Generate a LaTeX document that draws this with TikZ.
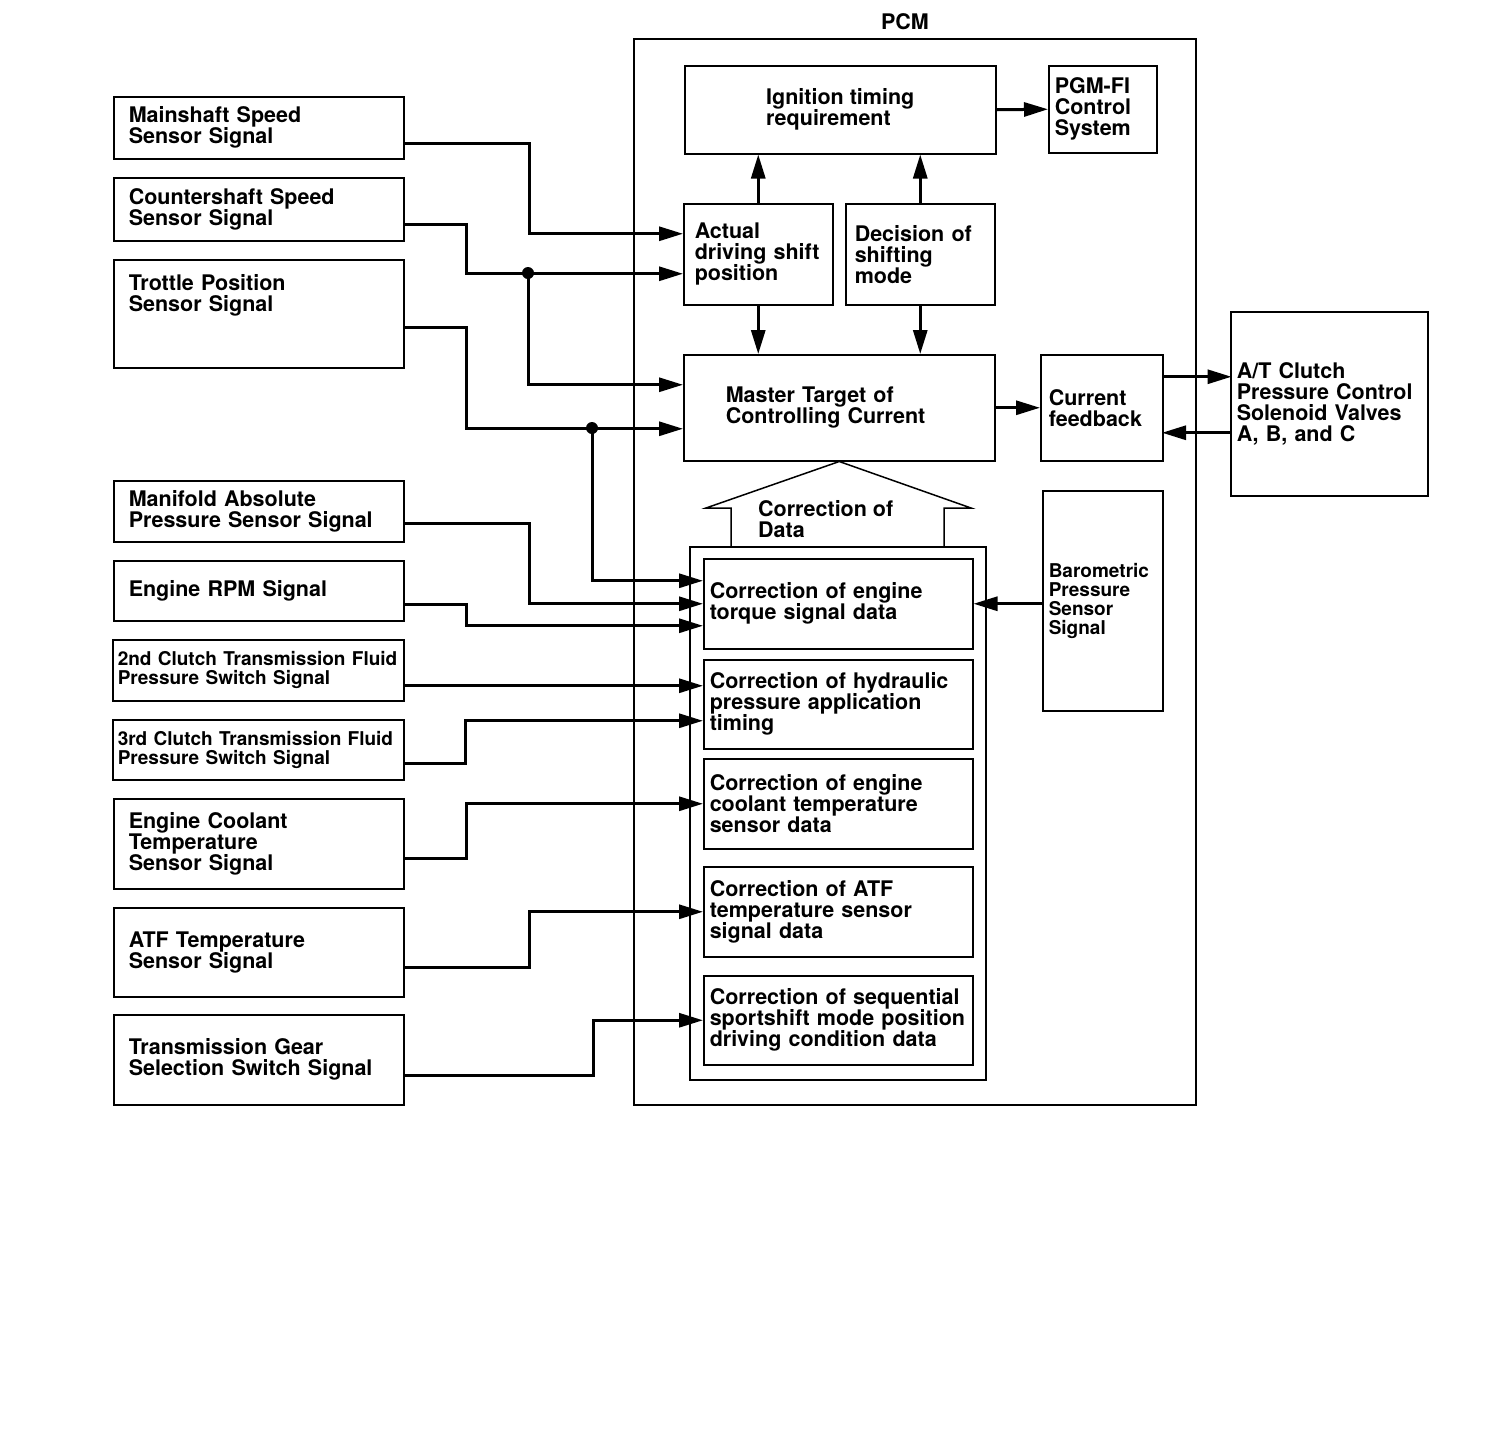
\documentclass[tikz,border=0pt]{standalone}
\usepackage{fontspec}
\setmainfont{TeX Gyre Heros}
\usetikzlibrary{arrows.meta}
\newcommand{\bigfnt}{\fontsize{21.5}{21}\selectfont\bfseries}
\newcommand{\smallfnt}{\fontsize{19}{19}\selectfont\bfseries}
\tikzset{
	blk/.style={draw, line width=1.5pt, anchor=north west, inner ysep=0pt, align=left, font=\bigfnt},
	frame/.style={draw, line width=1.5pt, anchor=north west, inner sep=0pt},
	sigbox/.style={blk, text width=260pt, inner xsep=15pt},
	sigsmall/.style={blk, font=\smallfnt, text width=281pt, inner xsep=5pt},
	corrbox/.style={blk, text width=257pt, inner xsep=6pt},
	wire/.style={line width=3pt, -{Triangle[length=24pt,width=14pt]}},
}
\begin{document}
\begin{tikzpicture}[x=1pt, y=-1pt]
			\useasboundingbox (0,0) rectangle (1504,1428);
			
			% Draw the PCM frame
			\node[frame, minimum width=562pt, minimum height=1066pt] (pcm) at (633,38) {};
			\node[font=\bigfnt, inner sep=0pt] (pcmtitle) at (905,22) {PCM};
			
			% Draw the sensor signal boxes
			\node[sigbox, minimum height=62pt] (ms) at (113,96) {Mainshaft Speed\\Sensor Signal};
			\node[sigbox, minimum height=63pt] (cs) at (113,177) {Countershaft Speed\\Sensor Signal};
			\node[sigbox, minimum height=108pt] (tps) at (113,259) {Trottle Position\\Sensor Signal\\\mbox{}\\\mbox{}};
			\node[sigbox, minimum height=61pt] (map) at (113,480) {Manifold Absolute\\Pressure Sensor Signal};
			\node[sigbox, minimum height=60pt] (rpm) at (113,560) {Engine RPM Signal};
			\node[sigsmall, minimum height=61pt] (sc2) at (112,639) {2nd Clutch Transmission Fluid\\Pressure Switch Signal};
			\node[sigsmall, minimum height=60pt] (sc3) at (112,719) {3rd Clutch Transmission Fluid\\Pressure Switch Signal};
			\node[sigbox, minimum height=90pt] (ect) at (113,798) {Engine Coolant\\Temperature\\Sensor Signal};
			\node[sigbox, minimum height=89pt] (atf) at (113,907) {ATF Temperature\\Sensor Signal};
			\node[sigbox, minimum height=90pt] (gear) at (113,1014) {Transmission Gear\\Selection Switch Signal};
			
			% Draw the blocks inside the PCM
			\node[blk, minimum width=311pt, minimum height=88pt, inner xsep=0pt] (ign) at (684,65) {Ignition timing\\requirement};
			\node[blk, text width=96pt, inner xsep=6pt, minimum height=87pt] (pgm) at (1048,65) {PGM-FI\\Control\\System};
			\node[blk, text width=127pt, inner xsep=11pt, minimum height=101pt] (act) at (683,203) {Actual\\driving shift\\position};
			\node[blk, text width=131pt, inner xsep=9pt, minimum height=101pt] (dec) at (845,203) {Decision of\\shifting\\mode};
			\node[blk, text width=227pt, inner xsep=42pt, minimum height=106pt] (mtc) at (683,354) {Master Target of\\Controlling Current};
			\node[blk, text width=106pt, inner xsep=8pt, minimum height=106pt] (cfb) at (1040,354) {Current\\feedback};
			\node[blk, text width=185pt, inner xsep=6pt, minimum height=184pt] (atc) at (1230,311) {A/T Clutch\\Pressure Control\\Solenoid Valves\\A, B, and C};
			\node[blk, font=\smallfnt, text width=108pt, inner xsep=6pt, minimum height=220pt] (bps) at (1042,490) {Barometric\\Pressure\\Sensor\\Signal};
			
			% Draw the correction of data blocks
			\node[frame, minimum width=296pt, minimum height=533pt] (cor) at (689,546) {};
			\node[corrbox, minimum height=90pt] (c1) at (703,558) {Correction of engine\\torque signal data};
			\node[corrbox, minimum height=89pt] (c2) at (703,659) {Correction of hydraulic\\pressure application\\timing};
			\node[corrbox, minimum height=90pt] (c3) at (703,758) {Correction of engine\\coolant temperature\\sensor data};
			\node[corrbox, minimum height=90pt] (c4) at (703,866) {Correction of ATF\\temperature sensor\\signal data};
			\node[corrbox, minimum height=89pt] (c5) at (703,975) {Correction of sequential\\sportshift mode position\\driving condition data};
			
			% Draw the big hollow arrow
			\draw[line width=1.5pt, line join=miter] (731,547) -- (731,508) -- (706,508) -- (mtc.south) -- (971,508) -- (944,508) -- (944,547);
			\node[font=\bigfnt, align=left, anchor=west, inner sep=0pt] (cdata) at (758,519) {Correction of\\Data};
			
			% Draw the signal wires
			\coordinate (j1) at (528,273);
			\coordinate (j2) at (592,428);
			\draw[wire] ([yshift=-16pt]ms.east) -- ++(125,0) |- ([yshift=20.5pt]act.west);
			\draw[wire] ([yshift=-15.5pt]cs.east) -- ++(62,0) |- ([yshift=-19.5pt]act.west);
			\draw[wire] (j1) |- ([yshift=23pt]mtc.west);
			\draw[wire] ([yshift=-14pt]tps.east) -- ++(62,0) |- ([yshift=-21pt]mtc.west);
			\draw[wire] (j2) |- ([yshift=23pt]c1.west);
			\fill (j1) circle (6pt);
			\fill (j2) circle (6pt);
			\draw[wire] ([yshift=-12.5pt]map.east) -- ++(125,0) |- (c1.west);
			\draw[wire] ([yshift=-14pt]rpm.east) -- ++(62,0) |- ([yshift=-22pt]c1.west);
			\draw[wire] ([yshift=-15.5pt]sc2.east) -- ([yshift=18.5pt]c2.west);
			\draw[wire] ([yshift=-14pt]sc3.east) -- ++(61,0) |- ([yshift=-16.5pt]c2.west);
			\draw[wire] ([yshift=-15pt]ect.east) -- ++(62,0) |- (c3.west);
			\draw[wire] ([yshift=-15.5pt]atf.east) -- ++(125,0) |- (c4.west);
			\draw[wire] ([yshift=-16pt]gear.east) -- ++(189,0) |- (c5.west);
			
			% Draw the wires inside the PCM
			\draw[wire] (ign.east) -- (pgm.west);
			\draw[wire] (act.north) -- (act.north |- ign.south);
			\draw[wire] (dec.north) -- (dec.north |- ign.south);
			\draw[wire] (act.south) -- (act.south |- mtc.north);
			\draw[wire] (dec.south) -- (dec.south |- mtc.north);
			\draw[wire] (mtc.east) -- (cfb.west);
			\draw[wire] ([yshift=31pt]cfb.east) -- ++(68,0);
			\draw[wire] ([yshift=-29pt]atc.west) -- ++(-68,0);
			\draw[wire] (bps.west |- c1.east) -- (c1.east);
			
\end{tikzpicture}
\end{document}
